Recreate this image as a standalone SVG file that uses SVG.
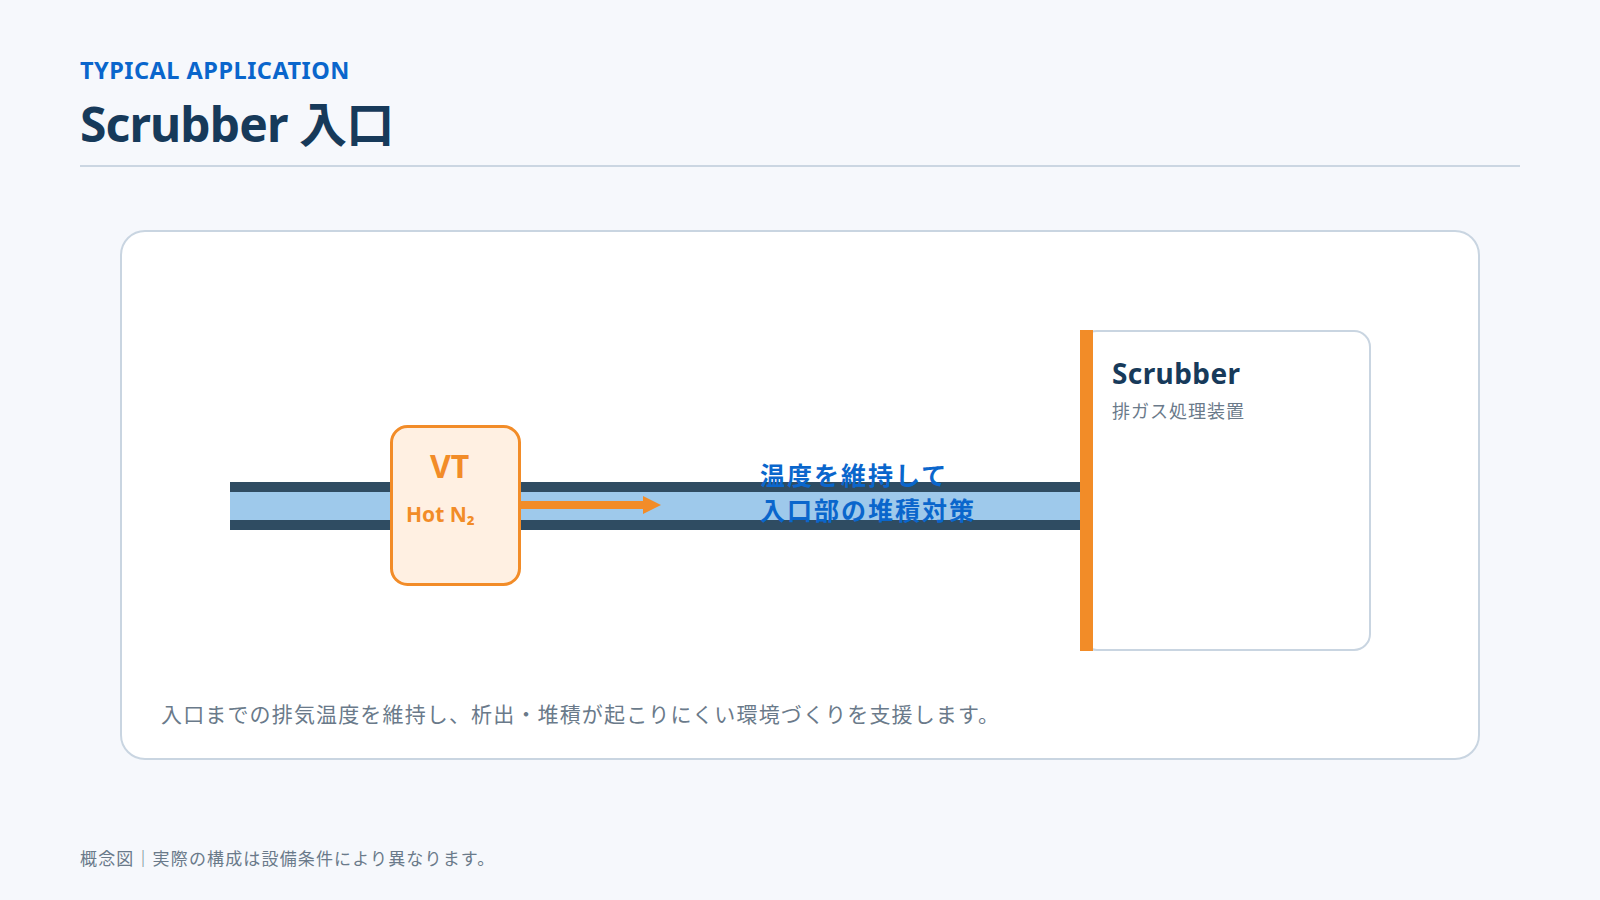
<svg xmlns="http://www.w3.org/2000/svg" width="1600" height="900" viewBox="0 0 1600 900">
  <defs>
    <style>
      .f { font-family: "Noto Sans", "Noto Sans CJK JP", sans-serif; }
      .b { font-weight: 700; }
      .pipeDark { fill: #2f4c62; }
      .pipeLight { fill: #9ec9eb; }
      .muted { fill: #6a7a8a; }
    </style>
  </defs>
  <rect x="0" y="0" width="1600" height="900" fill="#f6f8fc"/>

  <g id="header">
    <text x="80" y="79" class="f b" font-size="23.5" letter-spacing="0.5" fill="#0a66cc">TYPICAL APPLICATION</text>
    <text x="80" y="142" class="f b" font-size="48" letter-spacing="-0.9" fill="#173a5a">Scrubber 入口</text>
    <line x1="80" y1="166" x2="1520" y2="166" stroke="#cbd6e2" stroke-width="2"/>
  </g>

  <g id="card">
    <rect x="121" y="231" width="1358" height="528" rx="24" ry="24" fill="#ffffff" stroke="#c9d5e1" stroke-width="2"/>
  </g>

  <g id="pipe">
    <rect x="230" y="482" width="852" height="48" class="pipeDark"/>
    <rect x="230" y="492" width="852" height="28" class="pipeLight"/>
  </g>

  <g id="scrubber">
    <rect x="1081" y="331" width="289" height="319" rx="16" ry="16" fill="#ffffff" stroke="#c9d5e1" stroke-width="2"/>
    <rect x="1080" y="330" width="13" height="321" fill="#f28c28"/>
    <text x="1112" y="384" class="f b" font-size="28" letter-spacing="0.4" fill="#173a5a">Scrubber</text>
    <text x="1112" y="418" class="f" font-size="18" letter-spacing="1" fill="#6a7a8a">排ガス処理装置</text>
  </g>

  <g id="connectors">
    <line x1="520" y1="505" x2="646" y2="505" stroke="#f28c28" stroke-width="8"/>
    <polygon points="643,496 661,505 643,514" fill="#f28c28"/>
  </g>

  <g id="vt">
    <rect x="391.5" y="426.5" width="128" height="158" rx="16" ry="16" fill="#fff0e2" stroke="#f28c28" stroke-width="3"/>
    <text x="430" y="478" class="f b" font-size="32" fill="#f28c28">VT</text>
    <text x="406" y="522" class="f b" font-size="21" fill="#f28c28">Hot N₂</text>
  </g>

  <g id="label">
    <text x="760" y="485" class="f b" font-size="25" letter-spacing="2" fill="#0a66cc">温度を維持して</text>
    <text x="760" y="520" class="f b" font-size="25" letter-spacing="2" fill="#0a66cc">入口部の堆積対策</text>
  </g>

  <g id="caption">
    <text x="161" y="722" class="f" font-size="21" letter-spacing="1.15" fill="#6a7a8a">入口までの排気温度を維持し、析出・堆積が起こりにくい環境づくりを支援します。</text>
  </g>

  <g id="footer">
    <text x="80" y="865" class="f" font-size="17" letter-spacing="1.15" fill="#6a7a8a">概念図｜実際の構成は設備条件により異なります。</text>
  </g>
</svg>
